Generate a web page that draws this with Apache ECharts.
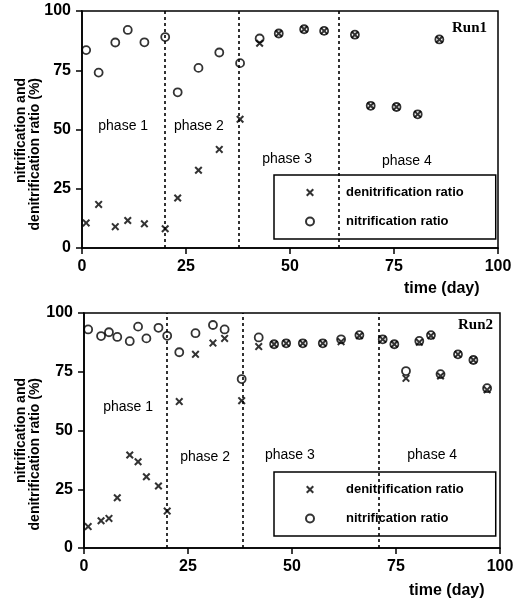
<!DOCTYPE html>
<html>
<head>
<meta charset="utf-8">
<script src="https://cdn.jsdelivr.net/npm/echarts@6/dist/echarts.min.js"></script>
<style>
html,body{margin:0;padding:0;background:#fff;}
#c{width:522px;height:603px;}
</style>
</head>
<body>
<div id="c"></div>
<script>
// ---------- data ----------
const seriesNames = ['denitrification ratio', 'nitrification ratio'];
const xTicks = [0, 25, 50, 75, 100];
const yTicks = [0, 25, 50, 75, 100];

const run1Days  = [1, 4, 8, 11, 15, 20, 23, 28, 33, 38, 42.7, 47.3, 53.4, 58.2, 65.6, 69.4, 75.6, 80.7, 85.9];
const run1Denit = [10.6, 18.4, 9, 11.6, 10.2, 8.1, 21.1, 32.8, 41.6, 54.3, 86.4, 90.5, 92.3, 91.6, 90, 60, 59.5, 56.4, 88];
const run1Nit   = [83.5, 74, 86.7, 92, 86.8, 89, 65.7, 76, 82.5, 78, 88.4, 90.5, 92.3, 91.6, 90, 60, 59.5, 56.4, 88];
const run1Phases = [20, 37.7, 61.6];

const run2Days  = [1, 4.1, 6, 8, 11, 13, 15, 17.9, 20, 22.9, 26.8, 31, 33.8, 37.9, 42, 45.7, 48.6, 52.6, 57.4, 61.8, 66.2, 71.8, 74.6, 77.4, 80.6, 83.4, 85.7, 89.9, 93.6, 96.9];
const run2Denit = [9.1, 11.6, 12.6, 21.4, 39.6, 36.7, 30.3, 26.4, 15.7, 62.3, 82.4, 87.2, 89.2, 62.7, 85.7, 86.7, 87.1, 87.1, 87.1, 87.8, 90.3, 88.8, 86.7, 72.2, 87.6, 90.3, 73.2, 82.4, 80, 67.3];
const run2Nit   = [93, 90.2, 91.8, 89.8, 88, 94.2, 89.2, 93.7, 90.3, 83.3, 91.4, 94.9, 93, 71.9, 89.6, 86.7, 87.1, 87.1, 87.1, 88.8, 90.6, 88.8, 86.7, 75.3, 88.1, 90.6, 74, 82.4, 80, 68];
const run2Phases = [20, 38.2, 70.8];

const phaseNames = ['phase 1', 'phase 2', 'phase 3', 'phase 4'];

// ---------- layout (annotation positions in data space) ----------
const run1PhasePos = [[9.9, 51.3], [28.1, 51.3], [49.3, 37.4], [78.1, 36.6]];
const run2PhasePos = [[10.6, 60], [29.1, 38.7], [49.5, 39.6], [83.7, 39.6]];

const FONT = '"Liberation Sans", Arial, sans-serif';
const crossPath = 'path://M0,1.8L1.8,0L5,3.2L8.2,0L10,1.8L6.8,5L10,8.2L8.2,10L5,6.8L1.8,10L0,8.2L3.2,5Z';

function pairs(days, vals) { return days.map((d, i) => [d, vals[i]]); }

function axisX(gi) {
  return {
    type: 'value', gridIndex: gi, min: xTicks[0], max: xTicks[xTicks.length - 1], interval: 25,
    axisLine: { show: true, onZero: false, lineStyle: { color: '#000', width: 1.6 } },
    axisTick: { show: true, length: 6, lineStyle: { color: '#000', width: 1.5 } },
    axisLabel: { color: '#000', fontWeight: 'bold', fontSize: 16, fontFamily: FONT, margin: 11 },
    splitLine: { show: false }
  };
}
function axisY(gi) {
  return {
    type: 'value', gridIndex: gi, min: yTicks[0], max: yTicks[yTicks.length - 1], interval: 25,
    axisLine: { show: true, onZero: false, lineStyle: { color: '#000', width: 1.6 } },
    axisTick: { show: true, length: 6, lineStyle: { color: '#000', width: 1.5 } },
    axisLabel: { color: '#000', fontWeight: 'bold', fontSize: 16, fontFamily: FONT, margin: 11 },
    splitLine: { show: false }
  };
}

function runSeries(gi, days, denit, nit, phases, phasePos) {
  return [
    {
      name: seriesNames[0], type: 'scatter', xAxisIndex: gi, yAxisIndex: gi,
      symbol: crossPath, symbolSize: 8,
      itemStyle: { color: '#000' },
      data: pairs(days, denit),
      markLine: {
        silent: true, symbol: 'none', label: { show: false },
        lineStyle: { color: '#000', type: [3, 3], width: 1.6 },
        data: phases.map(p => ({ xAxis: p }))
      },
      markPoint: {
        silent: true, symbol: 'circle', symbolSize: 0,
        label: { show: true, position: 'inside', formatter: '{b}', color: '#000', fontSize: 14, fontFamily: FONT },
        data: phaseNames.map((n, i) => ({ name: n, coord: phasePos[i] }))
      }
    },
    {
      name: seriesNames[1], type: 'scatter', xAxisIndex: gi, yAxisIndex: gi,
      symbol: 'circle', symbolSize: 8,
      itemStyle: { color: 'rgba(0,0,0,0)', borderColor: '#000', borderWidth: 1.8 },
      data: pairs(days, nit)
    }
  ];
}

function legendAt(top) {
  return {
    orient: 'vertical', left: 274, top: top,
    data: seriesNames,
    selectedMode: false,
    itemWidth: 8, itemHeight: 8, itemGap: 16,
    padding: [11, 32, 11, 31],
    borderColor: '#000', borderWidth: 1.5, borderRadius: 0,
    textStyle: { color: '#000', fontWeight: 'bold', fontSize: 13, fontFamily: FONT, padding: [0, 0, 0, 27] }
  };
}

const chart = echarts.init(document.getElementById('c'), null, { renderer: 'canvas' });
chart.setOption({
  backgroundColor: '#fff',
  animation: false,
  grid: [
    { left: 82, right: 24, top: 11, height: 237, show: true, borderColor: '#000', borderWidth: 1.5 },
    { left: 84, right: 22, top: 313, height: 235, show: true, borderColor: '#000', borderWidth: 1.5 }
  ],
  xAxis: [axisX(0), axisX(1)],
  yAxis: [axisY(0), axisY(1)],
  legend: [legendAt(175), legendAt(472)],
  title: [
    { text: 'Run1', right: 35, top: 21, padding: 0, textStyle: { fontFamily: '"Liberation Serif", serif', fontWeight: 'bold', fontSize: 15, color: '#000' } },
    { text: 'Run2', right: 29, top: 318, padding: 0, textStyle: { fontFamily: '"Liberation Serif", serif', fontWeight: 'bold', fontSize: 15, color: '#000' } },
    { text: 'time (day)', left: 404, top: 281, padding: 0, textStyle: { fontFamily: FONT, fontWeight: 'bold', fontSize: 16, color: '#000' } },
    { text: 'time (day)', left: 409, top: 583, padding: 0, textStyle: { fontFamily: FONT, fontWeight: 'bold', fontSize: 16, color: '#000' } }
  ],
  graphic: [
    { type: 'text', x: 28, y: 78, rotation: Math.PI / 2,
      style: { text: 'nitrification and\ndenitrification ratio (%)', align: 'right', verticalAlign: 'middle', font: 'bold 14px ' + FONT, fill: '#000', lineHeight: 14 } },
    { type: 'text', x: 28, y: 378, rotation: Math.PI / 2,
      style: { text: 'nitrification and\ndenitrification ratio (%)', align: 'right', verticalAlign: 'middle', font: 'bold 14px ' + FONT, fill: '#000', lineHeight: 14 } }
  ],
  series: [
    ...runSeries(0, run1Days, run1Denit, run1Nit, run1Phases, run1PhasePos),
    ...runSeries(1, run2Days, run2Denit, run2Nit, run2Phases, run2PhasePos)
  ]
});
</script>
</body>
</html>
